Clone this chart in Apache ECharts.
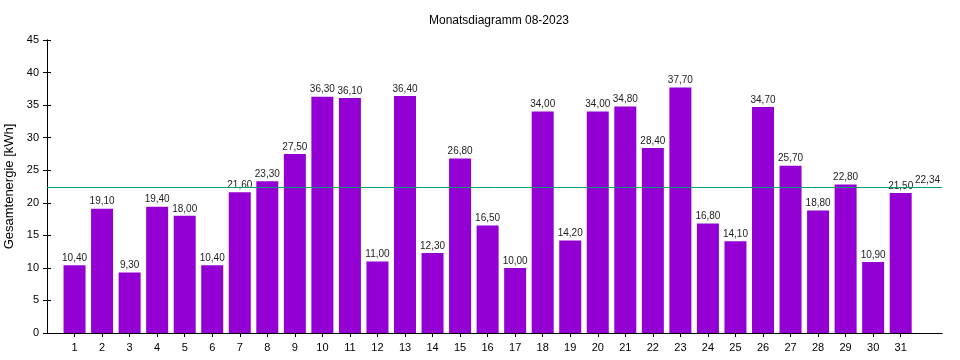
<!DOCTYPE html>
<html>
<head>
<meta charset="utf-8">
<script src="https://cdn.jsdelivr.net/npm/echarts@6/dist/echarts.min.js"></script>
<style>html,body{margin:0;padding:0;background:#fff;}#c{width:960px;height:360px;}</style>
</head>
<body>
<div id="c"></div>
<script>
const days = [1,2,3,4,5,6,7,8,9,10,11,12,13,14,15,16,17,18,19,20,21,22,23,24,25,26,27,28,29,30,31];
const energy = [10.4,19.1,9.3,19.4,18.0,10.4,21.6,23.3,27.5,36.3,36.1,11.0,36.4,12.3,26.8,16.5,10.0,34.0,14.2,34.0,34.8,28.4,37.7,16.8,14.1,34.7,25.7,18.8,22.8,10.9,21.5];
const average = 22.34;
const yTicks = [0,5,10,15,20,25,30,35,40,45];
const titleText = 'Monatsdiagramm 08-2023';
const yName = 'Gesamtenergie [kWh]';

const fmt = v => v.toFixed(2).replace('.', ',');
const font = 'Liberation Sans, Arial, sans-serif';
const chart = echarts.init(document.getElementById('c'), null, {renderer:'canvas'});
const axLine = {show:true, lineStyle:{color:'#000', width:1}};
chart.setOption({
  animation:false,
  title:{text:titleText, left:494, top:10, textAlign:'center',
    textStyle:{fontFamily:font, fontSize:12, fontWeight:'normal', color:'#000'}},
  grid:{left:47, right:18, top:40, bottom:27, containLabel:false, outerBoundsMode:'none'},
  xAxis:[{
    type:'value', min:0, max:32.5, position:'bottom',
    axisLine:axLine, splitLine:{show:false},
    axisTick:{show:true, inside:true, length:4, customValues:days, lineStyle:{color:'#000'}},
    axisLabel:{customValues:days, color:'#000', fontFamily:font, fontSize:11, margin:9}
  },{
    type:'value', min:0, max:32.5, position:'top',
    axisLine:axLine, splitLine:{show:false},
    axisTick:{show:true, inside:true, length:4, customValues:days, lineStyle:{color:'#000'}},
    axisLabel:{show:false}
  }],
  yAxis:[{
    type:'value', min:0, max:45, interval:5, position:'left',
    name:yName, nameLocation:'middle', nameGap:30, nameRotate:90,
    nameTextStyle:{fontFamily:font, fontSize:13, color:'#000'},
    axisLine:axLine, splitLine:{show:false},
    axisTick:{show:true, inside:true, length:4, lineStyle:{color:'#000'}},
    axisLabel:{color:'#000', fontFamily:font, fontSize:11, margin:8, customValues:yTicks}
  },{
    type:'value', min:0, max:45, interval:5, position:'right',
    axisLine:axLine, splitLine:{show:false},
    axisTick:{show:true, inside:true, length:4, lineStyle:{color:'#000'}},
    axisLabel:{show:false}
  }],
  series:[{
    type:'bar', xAxisIndex:0, yAxisIndex:0,
    data: days.map((d,i)=>[d, energy[i]]),
    barWidth:22,
    itemStyle:{color:'#9400d3'},
    label:{show:true, position:'top', distance:2, fontFamily:font, fontSize:10, color:'#222',
      formatter:p=>fmt(p.value[1])},
    markLine:{
      silent:true, symbol:'none',
      lineStyle:{color:'#009e73', width:1, type:'solid'},
      label:{show:true, position:'insideEndTop', distance:[2,2], fontFamily:font, fontSize:10, color:'#222',
        formatter:()=>fmt(average)},
      data:[{yAxis:average}]
    }
  }]
});
</script>
</body>
</html>
